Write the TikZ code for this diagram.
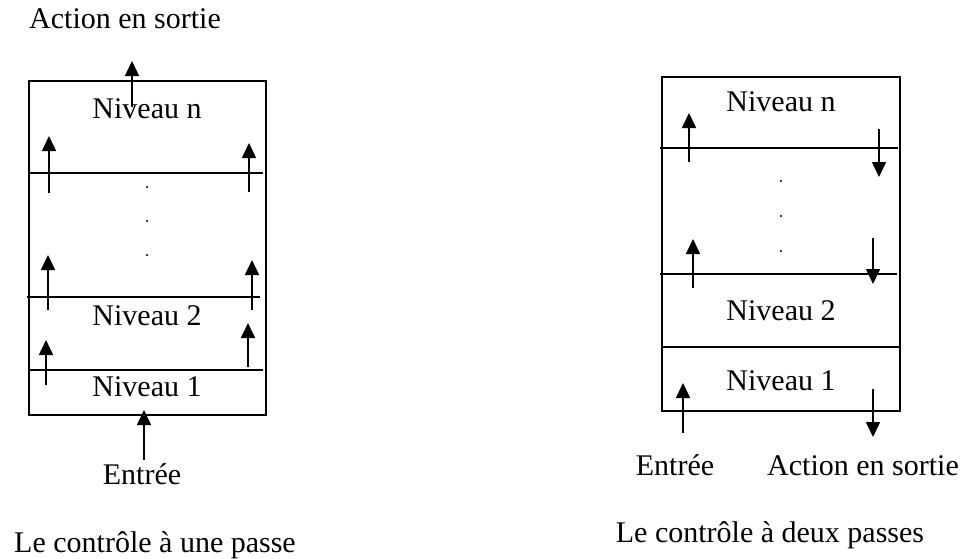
\documentclass[tikz,border=0pt]{standalone}
\usepackage{fontspec}
\setmainfont{Liberation Serif}
\usetikzlibrary{arrows.meta}
\begin{document}
\begin{tikzpicture}[x=1pt,y=-1pt,
  lbl/.style={font=\fontsize{30}{36}\selectfont, anchor=base, inner sep=0pt},
  ln/.style={line width=1.6pt},
  arr/.style={line width=1.6pt, -{Triangle[length=15pt,width=14pt]}},
  dotmark/.style={circle, fill, inner sep=0pt, minimum size=2.2pt}]
\useasboundingbox (0,0) rectangle (964,558);
% ---------- left diagram ----------
\draw[ln] (29,81) rectangle (266,415);
\draw[ln] (29,173) -- (263,173);
\draw[ln] (27,297) -- (260,297);
\draw[ln] (29,370) -- (263,370);
\node[lbl] (lout) at (125,28) {Action en sortie};
\node[lbl] (ln) at (147,118) {Niveau n};
\node[lbl] (l2) at (147,325) {Niveau 2};
\node[lbl] (l1) at (147,396) {Niveau 1};
\node[lbl] (lin) at (142,484) {Entrée};
\node[lbl] (lcap) at (155,552) {Le contrôle à une passe};
\node[dotmark] (ld1) at (147,187) {};
\node[dotmark] (ld2) at (147,221) {};
\node[dotmark] (ld3) at (147,255) {};
\draw[arr] (132,107) -- (132,61);
\draw[arr] (49,193) -- (49,136);
\draw[arr] (249,192) -- (249,143);
\draw[arr] (48,310) -- (48,255);
\draw[arr] (252,310) -- (252,260);
\draw[arr] (46,385) -- (46,340);
\draw[arr] (248,367) -- (248,323);
\draw[arr] (144,460) -- (144,410);
% ---------- right diagram ----------
\draw[ln] (662,77) rectangle (900,411);
\draw[ln] (660,148) -- (898,148);
\draw[ln] (660,274) -- (897,274);
\draw[ln] (662,347) -- (900,347);
\node[lbl] (rn) at (781,111) {Niveau n};
\node[lbl] (r2) at (781,320) {Niveau 2};
\node[lbl] (r1) at (781,390) {Niveau 1};
\node[lbl] (rin) at (675,475) {Entrée};
\node[lbl] (rout) at (863,475) {Action en sortie};
\node[lbl] (rcap) at (770,542) {Le contrôle à deux passes};
\node[dotmark] (rd1) at (781,181) {};
\node[dotmark] (rd2) at (781,216) {};
\node[dotmark] (rd3) at (781,251) {};
\draw[arr] (689,162) -- (689,113);
\draw[arr] (879,129) -- (879,177);
\draw[arr] (693,288) -- (693,239);
\draw[arr] (873,238) -- (873,284);
\draw[arr] (683,433) -- (683,383);
\draw[arr] (873,389) -- (873,437);
\end{tikzpicture}
\end{document}
